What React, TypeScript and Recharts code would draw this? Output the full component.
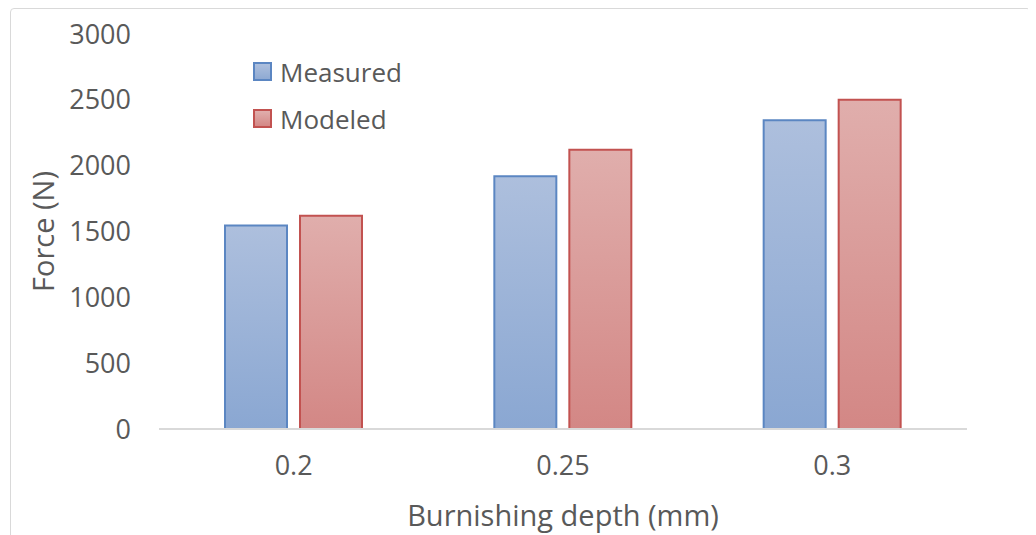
import React from 'react';
import { BarChart, Bar, XAxis, YAxis, Legend } from 'recharts';

const categories = ['0.2', '0.25', '0.3'];
const measured = [1545, 1920, 2345];
const modeled = [1620, 2120, 2500];
const yTicks = [0, 500, 1000, 1500, 2000, 2500, 3000];

const data = categories.map((c, i) => ({ depth: c, Measured: measured[i], Modeled: modeled[i] }));

const FONT = '"Open Sans", sans-serif';
const TEXT = '#595959';
const TICK_SIZE = 27;
const TITLE_SIZE = 29;

const legendItems = [
  { name: 'Measured', top: '#adbfdd', bottom: '#8faad3', stroke: '#5b86c2' },
  { name: 'Modeled', top: '#e0aeac', bottom: '#d48886', stroke: '#c25250' },
];

const renderLegend = () => (
  <div style={{ fontFamily: FONT, fontSize: 26, color: TEXT }}>
    {legendItems.map((it) => (
      <div key={it.name} style={{ display: 'flex', alignItems: 'center', height: 47 }}>
        <div
          style={{
            width: 15,
            height: 15,
            border: `2px solid ${it.stroke}`,
            background: `linear-gradient(${it.top}, ${it.bottom})`,
            marginRight: 8,
          }}
        />
        <span>{it.name}</span>
      </div>
    ))}
  </div>
);

const YTitle = (props: any) => {
  const vb = props.viewBox || {};
  const x = 31;
  const y = vb.y + vb.height / 2;
  return (
    <text
      x={x}
      y={y}
      transform={`rotate(-90, ${x}, ${y})`}
      textAnchor="middle"
      dominantBaseline="central"
      fill={TEXT}
      fontFamily={FONT}
      fontSize={TITLE_SIZE}
    >
      Force (N)
    </text>
  );
};

export default function App() {
  return (
    <div
      style={{
        width: 1019,
        height: 530,
        border: '1px solid #d9d9d9',
        borderRadius: 4,
        marginLeft: 2,
        background: '#fff',
      }}
    >
      <BarChart
        width={1019}
        height={530}
        data={data}
        margin={{ top: 25, right: 63, left: 0, bottom: 50 }}
        barSize={62}
        barGap={13}
      >
        <defs>
          <linearGradient id="gBlue" x1="0" y1="0" x2="0" y2="1">
            <stop offset="0%" stopColor="#adbfdd" />
            <stop offset="100%" stopColor="#8aa7d2" />
          </linearGradient>
          <linearGradient id="gRed" x1="0" y1="0" x2="0" y2="1">
            <stop offset="0%" stopColor="#e0aeac" />
            <stop offset="100%" stopColor="#d38785" />
          </linearGradient>
        </defs>
        <XAxis
          dataKey="depth"
          height={60}
          tickLine={false}
          axisLine={{ stroke: '#d9d9d9', strokeWidth: 2 }}
          tick={{ fill: TEXT, fontFamily: FONT, fontSize: TICK_SIZE }}
          tickMargin={21}
          label={{
            value: 'Burnishing depth (mm)',
            position: 'bottom',
            offset: 16,
            fill: TEXT,
            fontFamily: FONT,
            fontSize: TITLE_SIZE,
          }}
        />
        <YAxis
          width={148}
          domain={[0, 3000]}
          ticks={yTicks}
          interval={0}
          tickLine={false}
          axisLine={false}
          tick={{ fill: TEXT, fontFamily: FONT, fontSize: TICK_SIZE }}
          tickMargin={22}
          label={<YTitle />}
        />
        <Legend
          layout="vertical"
          align="center"
          verticalAlign="middle"
          content={renderLegend}
          wrapperStyle={{ position: 'absolute', left: 242, top: 39, width: 'auto', height: 'auto' }}
        />
        <Bar
          dataKey="Measured"
          fill="url(#gBlue)"
          stroke="#5b86c2"
          strokeWidth={2}
          isAnimationActive={false}
        />
        <Bar
          dataKey="Modeled"
          fill="url(#gRed)"
          stroke="#c25250"
          strokeWidth={2}
          isAnimationActive={false}
        />
      </BarChart>
    </div>
  );
}
